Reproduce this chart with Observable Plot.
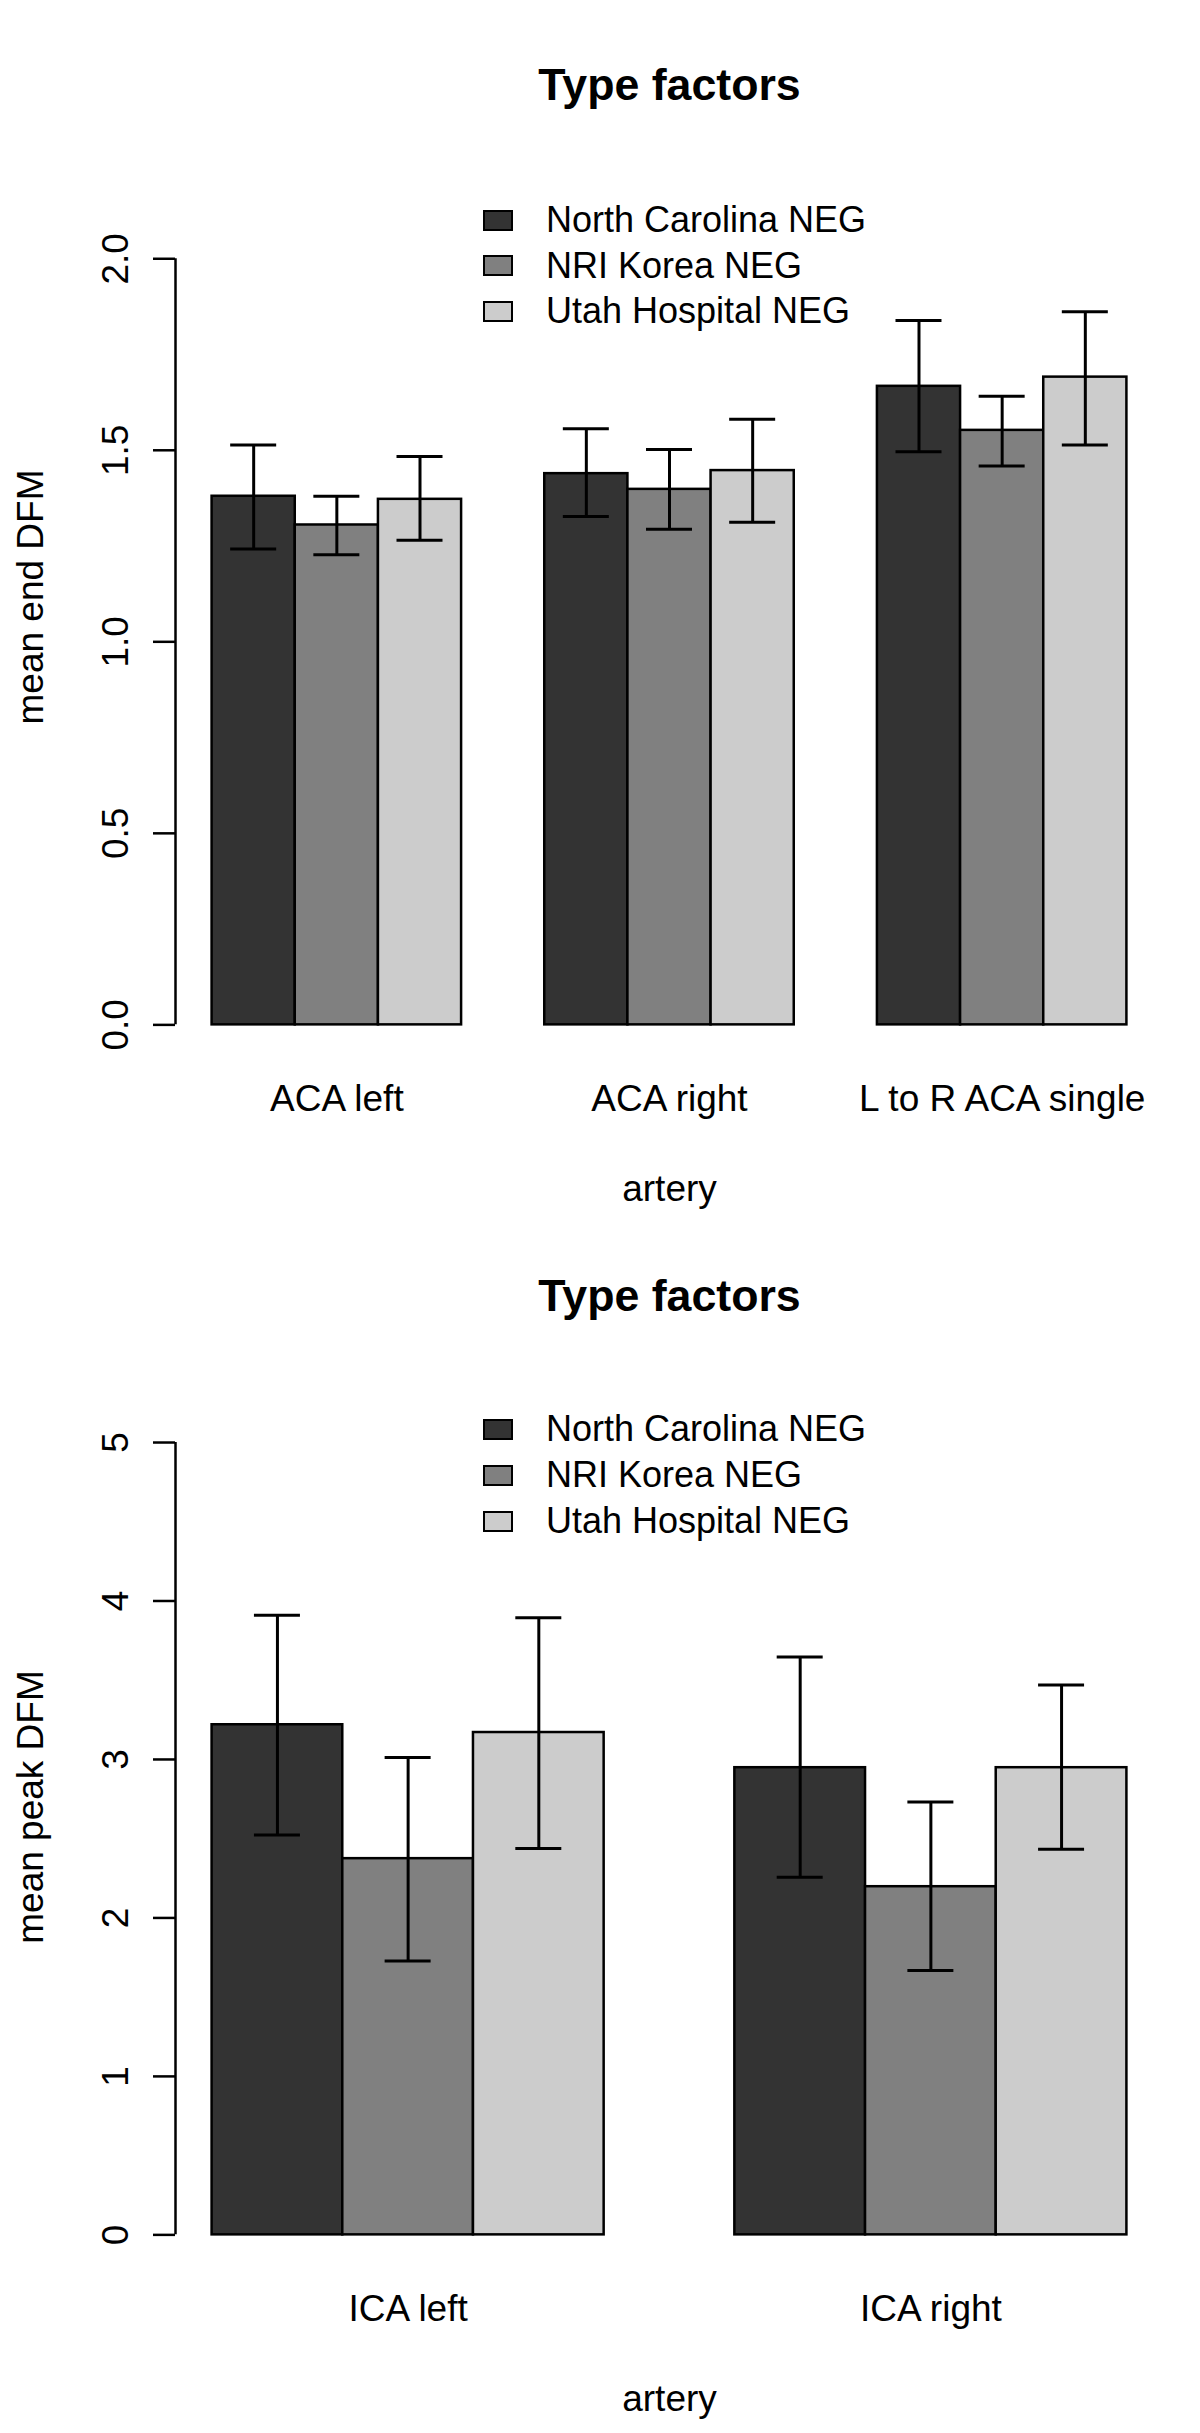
<!DOCTYPE html>
<html>
<head>
<meta charset="utf-8">
<script src="https://cdn.jsdelivr.net/npm/d3@7"></script>
<script src="https://cdn.jsdelivr.net/npm/@observablehq/plot@0.6"></script>
<style>
  body { margin: 0; background: #fff; }
  #page { position: relative; width: 1200px; height: 2433px; overflow: hidden;
          font-family: "Liberation Sans", Arial, sans-serif; background: #fff; }
  #page svg { position: absolute; left: 0; }
  .row { position: absolute; display: flex; align-items: center; height: 21px; }
  .sw { box-sizing: border-box; width: 30px; height: 21px; border: 2px solid #000; }
  .lab { margin-left: 33px; font-size: 36px; line-height: 1; color: #000; white-space: nowrap; }
</style>
</head>
<body>
<div id="page"></div>
<script>
// ---------------- data ----------------
const seriesNames = ["North Carolina NEG", "NRI Korea NEG", "Utah Hospital NEG"];
const seriesFills = ["#333333", "#808080", "#cccccc"];

// Chart 1: mean end DFM
const arteries1 = ["ACA left", "ACA right", "L to R ACA single"];
const end_NC     = [1.380, 1.439, 1.667];
const end_Korea  = [1.305, 1.398, 1.552];
const end_Utah   = [1.372, 1.447, 1.691];
const end_NC_lo    = [1.242, 1.327, 1.496];
const end_NC_hi    = [1.514, 1.556, 1.839];
const end_Korea_lo = [1.227, 1.294, 1.459];
const end_Korea_hi = [1.380, 1.502, 1.641];
const end_Utah_lo  = [1.265, 1.312, 1.514];
const end_Utah_hi  = [1.484, 1.581, 1.862];
const ticks1 = [0, 0.5, 1.0, 1.5, 2.0];

// Chart 2: mean peak DFM
const arteries2 = ["ICA left", "ICA right"];
const peak_NC     = [3.219, 2.948];
const peak_Korea  = [2.374, 2.197];
const peak_Utah   = [3.170, 2.948];
const peak_NC_lo    = [2.524, 2.257];
const peak_NC_hi    = [3.910, 3.647];
const peak_Korea_lo = [1.728, 1.668];
const peak_Korea_hi = [3.012, 2.731];
const peak_Utah_lo  = [2.438, 2.434];
const peak_Utah_hi  = [3.895, 3.470];
const ticks2 = [0, 1, 2, 3, 4, 5];

const titleText = "Type factors";
const xLabel = "artery";

// ---------------- chart builder ----------------
const FONT = "'Liberation Sans', Arial, Helvetica, sans-serif";

function makeChart({arteries, means, lows, highs, yLim, ticks, tickFormat, yLabel, height}) {
  const nS = seriesNames.length, nG = arteries.length;
  const rows = [];
  arteries.forEach((a, g) => seriesNames.forEach((s, k) => rows.push({
    artery: a, series: s, x1: g * (nS + 1) + 1 + k,
    value: means[k][g], lo: lows[k][g], hi: highs[k][g]
  })));
  const nU = nG * (nS + 1);
  const xDom = [1 - 0.04 * (nU - 1), nU + 0.04 * (nU - 1)];
  const ySpan = yLim[1] - yLim[0];
  const yDom = [yLim[0] - 0.04 * ySpan, yLim[1] + 0.04 * ySpan];
  const W = 1200, mL = 175, mR = 37, mT = 134.4, plotBottom = 1058.6;
  const pxPerUnit = (W - mL - mR) / (xDom[1] - xDom[0]);
  const capHalf = 23 / pxPerUnit;
  const centers = arteries.map((a, g) => g * (nS + 1) + 1 + nS / 2);

  return Plot.plot({
    width: W, height,
    marginLeft: mL, marginRight: mR, marginTop: mT, marginBottom: height - plotBottom,
    style: {fontFamily: FONT, fontSize: "37px", color: "#000", background: "transparent", overflow: "visible"},
    x: {type: "linear", domain: xDom, axis: null},
    y: {domain: yDom, axis: null},
    color: {type: "ordinal", domain: seriesNames, range: seriesFills},
    marks: [
      Plot.rectY(rows, {x1: "x1", x2: d => d.x1 + 1, y: "value", fill: "series",
                        stroke: "#000", strokeWidth: 2.5, inset: 0}),
      Plot.ruleX(rows, {x: d => d.x1 + 0.5, y1: "lo", y2: "hi", stroke: "#000", strokeWidth: 3}),
      Plot.ruleY(rows, {y: "hi", x1: d => d.x1 + 0.5 - capHalf, x2: d => d.x1 + 0.5 + capHalf,
                        stroke: "#000", strokeWidth: 3}),
      Plot.ruleY(rows, {y: "lo", x1: d => d.x1 + 0.5 - capHalf, x2: d => d.x1 + 0.5 + capHalf,
                        stroke: "#000", strokeWidth: 3}),
      // y axis line from first to last tick (R style)
      Plot.ruleX([xDom[0]], {y1: ticks[0], y2: ticks[ticks.length - 1], stroke: "#000", strokeWidth: 2.5}),
      Plot.axisY({ticks, tickFormat, tickSize: 22, tickPadding: 26, tickRotate: -90,
                  fontSize: 37, stroke: "#000", strokeWidth: 2.5, label: null}),
      Plot.axisX({ticks: centers, tickFormat: v => arteries[centers.indexOf(v)], tickSize: 0,
                  tickPadding: 26, fontSize: 37, label: null}),
      Plot.text([xLabel], {text: d => d, frameAnchor: "bottom", lineAnchor: "bottom",
                           dy: 141.4, fontSize: 37}),
      Plot.text([yLabel], {text: d => d, frameAnchor: "left", rotate: -90, lineAnchor: "bottom",
                           textAnchor: "middle", dx: -133, fontSize: 37}),
      Plot.text([titleText], {text: d => d, frameAnchor: "top", lineAnchor: "bottom",
                              dy: -34.4, fontWeight: "bold", fontSize: 44.7})
    ]
  });
}

function makeLegend(page, rowCenters) {
  seriesNames.forEach((s, k) => {
    const row = document.createElement("div");
    row.className = "row";
    row.style.left = "483px";
    row.style.top = (rowCenters[k] - 10.5) + "px";
    const sw = document.createElement("div");
    sw.className = "sw";
    sw.style.background = seriesFills[k];
    const lab = document.createElement("div");
    lab.className = "lab";
    lab.textContent = s;
    row.appendChild(sw);
    row.appendChild(lab);
    page.appendChild(row);
  });
}

const page = document.getElementById("page");

const chart1 = makeChart({
  arteries: arteries1,
  means: [end_NC, end_Korea, end_Utah],
  lows: [end_NC_lo, end_Korea_lo, end_Utah_lo],
  highs: [end_NC_hi, end_Korea_hi, end_Utah_hi],
  yLim: [0, 2.234], ticks: ticks1, tickFormat: d3.format(".1f"),
  yLabel: "mean end DFM", height: 1210
});
chart1.style.top = "0px";
page.appendChild(chart1);

const chart2 = makeChart({
  arteries: arteries2,
  means: [peak_NC, peak_Korea, peak_Utah],
  lows: [peak_NC_lo, peak_Korea_lo, peak_Utah_lo],
  highs: [peak_NC_hi, peak_Korea_hi, peak_Utah_hi],
  yLim: [0, 5.4], ticks: ticks2, tickFormat: d3.format("d"),
  yLabel: "mean peak DFM", height: 1223
});
chart2.style.top = "1210px";
page.appendChild(chart2);

makeLegend(page, [220, 265.5, 311]);
makeLegend(page, [1429, 1475, 1521]);
</script>
</body>
</html>
